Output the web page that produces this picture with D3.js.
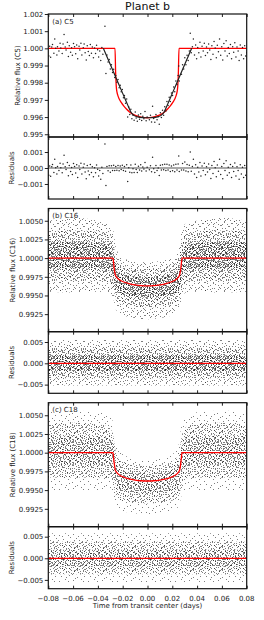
<!DOCTYPE html>
<html>
<head>
<meta charset="utf-8">
<script src="https://cdn.jsdelivr.net/npm/d3@7"></script>
<style>
  body { margin: 0; background: #fff; }
  svg { display: block; font-family: "DejaVu Sans", sans-serif; }
</style>
</head>
<body>
<svg id="chart" width="264" height="620"></svg>
<script>
// ---- data ----

// C5: [time, relative flux, residual]
const c5Rows = [
  [-0.0796, 0.99955, -0.00045], [-0.0789, 1.00012, 0.00012], [-0.0781, 0.99948, -0.00052],
  [-0.0772, 1.00008, 0.00008], [-0.0766, 1.00022, 0.00022], [-0.0755, 0.99972, -0.00028],
  [-0.0748, 1.00055, 0.00055], [-0.0740, 1.00001, 0.00001], [-0.0731, 0.99962, -0.00038],
  [-0.0726, 1.00010, 0.00010], [-0.0714, 0.99985, -0.00015], [-0.0705, 1.00030, 0.00030],
  [-0.0699, 1.00002, 0.00002], [-0.0688, 0.99970, -0.00030], [-0.0681, 1.00025, 0.00025],
  [-0.0673, 1.00080, 0.00080], [-0.0664, 1.00008, 0.00008], [-0.0657, 0.99990, -0.00010],
  [-0.0646, 1.00035, 0.00035], [-0.0638, 0.99952, -0.00048], [-0.0631, 1.00015, 0.00015],
  [-0.0620, 0.99978, -0.00022], [-0.0612, 1.00003, 0.00003], [-0.0606, 0.99960, -0.00040],
  [-0.0597, 1.00028, 0.00028], [-0.0588, 1.00010, 0.00010], [-0.0579, 0.99968, -0.00032],
  [-0.0571, 1.00020, 0.00020], [-0.0563, 0.99940, -0.00060], [-0.0552, 1.00012, 0.00012],
  [-0.0546, 0.99990, -0.00010], [-0.0537, 1.00030, 0.00030], [-0.0529, 0.99962, -0.00038],
  [-0.0518, 1.00004, 0.00004], [-0.0511, 1.00025, 0.00025], [-0.0503, 0.99975, -0.00025],
  [-0.0494, 0.99932, -0.00068], [-0.0486, 1.00015, 0.00015], [-0.0478, 0.99982, -0.00018],
  [-0.0469, 0.99958, -0.00042], [-0.0461, 1.00022, 0.00022], [-0.0452, 0.99972, -0.00028],
  [-0.0445, 1.00008, 0.00008], [-0.0436, 0.99945, -0.00055], [-0.0427, 1.00002, 0.00002],
  [-0.0419, 0.99970, -0.00030], [-0.0411, 1.00018, 0.00018], [-0.0402, 0.99992, -0.00008],
  [-0.0394, 0.99950, -0.00050], [-0.0385, 0.99985, -0.00015], [-0.0377, 0.99930, -0.00070],
  [-0.0368, 1.00005, 0.00005], [-0.0360, 0.99965, -0.00035], [-0.0343, 1.00129, 0.00150],
  [-0.0335, 0.99854, -0.00110], [-0.0327, 0.99962, 0.00010], [-0.0318, 0.99920, -0.00017],
  [-0.0309, 0.99935, 0.00014], [-0.0300, 0.99880, -0.00026], [-0.0291, 0.99905, 0.00014],
  [-0.0282, 0.99860, -0.00016], [-0.0273, 0.99878, 0.00017], [-0.0264, 0.99830, -0.00016],
  [-0.0256, 0.99842, 0.00010], [-0.0247, 0.99803, -0.00014], [-0.0238, 0.99818, 0.00016],
  [-0.0229, 0.99770, -0.00017], [-0.0220, 0.99785, 0.00013], [-0.0212, 0.99748, -0.00010],
  [-0.0203, 0.99760, 0.00017], [-0.0194, 0.99712, -0.00016], [-0.0186, 0.99725, 0.00010],
  [-0.0177, 0.99680, -0.00020], [-0.0168, 0.99705, 0.00020], [-0.0160, 0.99600, -0.00085],
  [-0.0151, 0.99658, 0.00002], [-0.0143, 0.99615, -0.00026], [-0.0134, 0.99645, 0.00018],
  [-0.0126, 0.99590, -0.00030], [-0.0117, 0.99610, -0.00005], [-0.0108, 0.99582, -0.00028],
  [-0.0099, 0.99630, 0.00023], [-0.0091, 0.99595, -0.00010], [-0.0082, 0.99575, -0.00028],
  [-0.0073, 0.99612, 0.00011], [-0.0064, 0.99588, -0.00012], [-0.0055, 0.99620, 0.00021],
  [-0.0047, 0.99580, -0.00018], [-0.0038, 0.99605, 0.00007], [-0.0029, 0.99590, -0.00007],
  [-0.0020, 0.99632, 0.00035], [-0.0011, 0.99578, -0.00019], [-0.0003, 0.99600, 0.00004],
  [0.0015, 0.99585, -0.00011], [0.0024, 0.99610, 0.00014], [0.0033, 0.99572, -0.00024],
  [0.0041, 0.99663, 0.00067], [0.0050, 0.99592, -0.00005], [0.0059, 0.99570, -0.00028],
  [0.0068, 0.99615, 0.00016], [0.0077, 0.99585, -0.00015], [0.0086, 0.99602, 0.00000],
  [0.0095, 0.99558, -0.00047], [0.0104, 0.99625, 0.00017], [0.0112, 0.99598, -0.00013],
  [0.0121, 0.99640, 0.00020], [0.0130, 0.99610, -0.00011], [0.0139, 0.99660, 0.00024],
  [0.0148, 0.99635, -0.00016], [0.0157, 0.99690, 0.00024], [0.0166, 0.99668, -0.00013],
  [0.0175, 0.99715, 0.00019], [0.0184, 0.99690, -0.00022], [0.0193, 0.99740, 0.00013],
  [0.0202, 0.99725, -0.00017], [0.0211, 0.99775, 0.00018], [0.0220, 0.99748, -0.00024],
  [0.0229, 0.99810, 0.00023], [0.0238, 0.99790, -0.00012], [0.0247, 0.99842, 0.00025],
  [0.0252, 0.99898, 0.00075], [0.0256, 0.99810, -0.00022], [0.0274, 0.99850, -0.00012],
  [0.0283, 0.99905, 0.00028], [0.0292, 0.99880, -0.00013], [0.0301, 0.99945, 0.00037],
  [0.0310, 0.99905, -0.00018], [0.0319, 0.99960, 0.00022], [0.0328, 0.99930, -0.00023],
  [0.0337, 0.99985, 0.00017], [0.0345, 1.00088, 0.00100], [0.0353, 0.99975, -0.00020],
  [0.0362, 1.00010, 0.00010], [0.0370, 1.00055, 0.00055], [0.0379, 0.99962, -0.00038],
  [0.0388, 1.00020, 0.00020], [0.0396, 0.99940, -0.00060], [0.0405, 1.00005, 0.00005],
  [0.0414, 0.99975, -0.00025], [0.0423, 1.00035, 0.00035], [0.0431, 0.99950, -0.00050],
  [0.0440, 1.00012, 0.00012], [0.0449, 0.99985, -0.00015], [0.0458, 1.00030, 0.00030],
  [0.0467, 0.99958, -0.00042], [0.0476, 1.00008, 0.00008], [0.0484, 0.99975, -0.00025],
  [0.0493, 1.00025, 0.00025], [0.0502, 0.99990, -0.00010], [0.0511, 0.99935, -0.00065],
  [0.0519, 1.00015, 0.00015], [0.0528, 0.99965, -0.00035], [0.0537, 1.00040, 0.00040],
  [0.0546, 1.00002, 0.00002], [0.0555, 0.99945, -0.00055], [0.0563, 1.00018, 0.00018],
  [0.0572, 0.99980, -0.00020], [0.0581, 1.00055, 0.00055], [0.0590, 0.99960, -0.00040],
  [0.0599, 1.00010, 0.00010], [0.0607, 0.99932, -0.00068], [0.0616, 1.00028, 0.00028],
  [0.0625, 0.99985, -0.00015], [0.0634, 1.00045, 0.00045], [0.0643, 0.99955, -0.00045],
  [0.0651, 1.00005, 0.00005], [0.0660, 0.99970, -0.00030], [0.0669, 1.00022, 0.00022],
  [0.0678, 0.99940, -0.00060], [0.0687, 1.00010, 0.00010], [0.0695, 0.99978, -0.00022],
  [0.0704, 1.00032, 0.00032], [0.0713, 0.99950, -0.00050], [0.0722, 1.00008, 0.00008],
  [0.0731, 0.99985, -0.00015], [0.0739, 0.99930, -0.00070], [0.0748, 1.00020, 0.00020],
  [0.0757, 0.99962, -0.00038], [0.0766, 1.00005, 0.00005], [0.0775, 0.99940, -0.00060],
  [0.0784, 1.00015, 0.00015], [0.0792, 0.99955, -0.00045], [0.0800, 0.99975, -0.00025]
]

// C5 models: red (fitted transit) and black (binned model)
const c5RedTime = [-0.080, -0.0262, -0.0257, -0.0252, -0.0246, -0.0240, -0.0228, -0.0212, -0.0192, -0.0170,
  -0.0145, -0.0115, -0.0080, -0.0040, -0.0004, 0.0032, 0.0072, 0.0107, 0.0137, 0.0162,
  0.0184, 0.0204, 0.0220, 0.0232, 0.0238, 0.0244, 0.0249, 0.0254, 0.080]
const c5RedFlux = [1.0000, 1.0000, 0.9986, 0.9978, 0.99745, 0.99728, 0.99705, 0.99685, 0.99665, 0.99647,
  0.99630, 0.99616, 0.99605, 0.99598, 0.99596, 0.99598, 0.99605, 0.99616, 0.99630, 0.99647,
  0.99665, 0.99685, 0.99705, 0.99728, 0.99745, 0.9978, 0.9986, 1.0000, 1.0000]
const c5BlackTime = [-0.0356, -0.0300, -0.0250, -0.0200, -0.0160, -0.0133, -0.0110, -0.0080, -0.0040, 0.0000,
  0.0040, 0.0080, 0.0110, 0.0133, 0.0160, 0.0200, 0.0250, 0.0300, 0.0356]
const c5BlackFlux = [1.0000, 0.99906, 0.99822, 0.99738, 0.99671, 0.99628, 0.99610, 0.99601, 0.99597, 0.99596,
  0.99597, 0.99601, 0.99610, 0.99628, 0.99671, 0.99738, 0.99822, 0.99906, 1.0000]

// C16 / C18 models
const modelTime = [-0.080, -0.0278, -0.0272, -0.0266, -0.0260, -0.0252, -0.0240, -0.0220, -0.0190, -0.0150,
  -0.0100, -0.0050, 0.0000, 0.0050, 0.0100, 0.0150, 0.0190, 0.0220, 0.0240, 0.0252,
  0.0260, 0.0266, 0.0272, 0.0278, 0.080]
const c16ModelFlux = [1.0000, 1.0000, 0.9991, 0.9983, 0.9978, 0.99752, 0.99728, 0.99703, 0.99680, 0.99658,
  0.99641, 0.99631, 0.99628, 0.99631, 0.99641, 0.99658, 0.99680, 0.99703, 0.99728, 0.99752,
  0.9978, 0.9983, 0.9991, 1.0000, 1.0000]
const c18ModelFlux = [1.0000, 1.0000, 0.9991, 0.9983, 0.9977, 0.99745, 0.99720, 0.99695, 0.99672, 0.99650,
  0.99634, 0.99625, 0.99622, 0.99625, 0.99634, 0.99650, 0.99672, 0.99695, 0.99720, 0.99745,
  0.9977, 0.9983, 0.9991, 1.0000, 1.0000]

// C16 / C18 point clouds (too dense to read point by point): envelopes of the
// outer, middle and core parts of the scatter
const cloudTime = [-0.080, -0.060, -0.040, -0.031, -0.028, -0.025, -0.020, -0.010, 0.000,
  0.010, 0.020, 0.025, 0.028, 0.031, 0.040, 0.060, 0.080]
const c16Hi3 = [1.0050, 1.0054, 1.0050, 1.0046, 1.0040, 1.0012, 1.0000, 0.9996, 0.9994, 0.9996, 1.0000, 1.0012, 1.0040, 1.0046, 1.0050, 1.0054, 1.0050]
const c16Lo3 = [0.9955, 0.9954, 0.9955, 0.9954, 0.9948, 0.9930, 0.9924, 0.9920, 0.9918, 0.9920, 0.9924, 0.9930, 0.9948, 0.9954, 0.9955, 0.9954, 0.9955]
const c16Hi2 = [1.0036, 1.0037, 1.0035, 1.0032, 1.0024, 0.9999, 0.9990, 0.9986, 0.9985, 0.9986, 0.9990, 0.9999, 1.0024, 1.0032, 1.0035, 1.0037, 1.0036]
const c16Lo2 = [0.9970, 0.9970, 0.9970, 0.9968, 0.9962, 0.9943, 0.9938, 0.9935, 0.9934, 0.9935, 0.9938, 0.9943, 0.9962, 0.9968, 0.9970, 0.9970, 0.9970]
const c16Hi1 = [1.0021, 1.0022, 1.0020, 1.0018, 1.0010, 0.9986, 0.9979, 0.9975, 0.9974, 0.9975, 0.9979, 0.9986, 1.0010, 1.0018, 1.0020, 1.0022, 1.0021]
const c16Lo1 = [0.9986, 0.9986, 0.9986, 0.9984, 0.9976, 0.9956, 0.9951, 0.9948, 0.9947, 0.9948, 0.9951, 0.9956, 0.9976, 0.9984, 0.9986, 0.9986, 0.9986]

const c18Hi3 = [1.0055, 1.0056, 1.0054, 1.0050, 1.0042, 1.0010, 0.9998, 0.9992, 0.9990, 0.9992, 0.9998, 1.0010, 1.0042, 1.0050, 1.0054, 1.0056, 1.0055]
const c18Lo3 = [0.9950, 0.9950, 0.9950, 0.9950, 0.9945, 0.9928, 0.9922, 0.9919, 0.9917, 0.9919, 0.9922, 0.9928, 0.9945, 0.9950, 0.9950, 0.9950, 0.9950]
const c18Hi2 = [1.0038, 1.0040, 1.0038, 1.0034, 1.0025, 0.9998, 0.9988, 0.9984, 0.9982, 0.9984, 0.9988, 0.9998, 1.0025, 1.0034, 1.0038, 1.0040, 1.0038]
const c18Lo2 = [0.9967, 0.9967, 0.9967, 0.9966, 0.9960, 0.9941, 0.9936, 0.9933, 0.9932, 0.9933, 0.9936, 0.9941, 0.9960, 0.9966, 0.9967, 0.9967, 0.9967]
const c18Hi1 = [1.0022, 1.0023, 1.0022, 1.0019, 1.0010, 0.9985, 0.9977, 0.9973, 0.9972, 0.9973, 0.9977, 0.9985, 1.0010, 1.0019, 1.0022, 1.0023, 1.0022]
const c18Lo1 = [0.9984, 0.9984, 0.9984, 0.9982, 0.9975, 0.9955, 0.9950, 0.9946, 0.9945, 0.9946, 0.9950, 0.9955, 0.9975, 0.9982, 0.9984, 0.9984, 0.9984]

// residual clouds: flat over time
const residTime = [-0.080, 0.080]
const r16Hi = [0.0055, 0.0036, 0.0019]
const r16Lo = [-0.0052, -0.0035, -0.0018]
const r18Hi = [0.0058, 0.0038, 0.0020]
const r18Lo = [-0.0055, -0.0037, -0.0019]

// axis ticks
const timeTicks = [-0.08, -0.06, -0.04, -0.02, 0, 0.02, 0.04, 0.06, 0.08]
const c5Ticks = [0.995, 0.996, 0.997, 0.998, 0.999, 1.000, 1.001, 1.002]
const c5ResidTicks = [-0.001, 0, 0.001]
const fluxTicks = [0.9925, 0.9950, 0.9975, 1.0000, 1.0025, 1.0050]
const residTicks = [-0.005, 0, 0.005]

// ---- layout ----
const svg = d3.select("#chart")
const left = 48.3, right = 246.7

const x = d3.scaleLinear()
  .domain([-0.08, 0.08])
  .range([left, right])

const panels = [
  {top: 14, bottom: 137, domain: [0.99484, 1.002], ticks: c5Ticks, fmt: ".3f", label: "Relative flux (C5)", labelX: 19.5, tag: "(a) C5"},
  {top: 137, bottom: 199, domain: [-0.00194, 0.00194], ticks: c5ResidTicks, fmt: ".3f", label: "Residuals", labelX: 13.5},
  {top: 208.5, bottom: 331.7, domain: [0.99015, 1.00664], ticks: fluxTicks, fmt: ".4f", label: "Relative flux (C16)", labelX: 15, tag: "(b) C16"},
  {top: 331.7, bottom: 393.3, domain: [-0.00704, 0.00742], ticks: residTicks, fmt: ".3f", label: "Residuals", labelX: 13.5},
  {top: 402.7, bottom: 526.7, domain: [0.99011, 1.00668], ticks: fluxTicks, fmt: ".4f", label: "Relative flux (C18)", labelX: 15, tag: "(c) C18"},
  {top: 526.7, bottom: 588.7, domain: [-0.00704, 0.00731], ticks: residTicks, fmt: ".3f", label: "Residuals", labelX: 13.5}
]
panels.forEach(p => {
  p.y = d3.scaleLinear().domain(p.domain).range([p.bottom, p.top])
})

// ---- dot textures for the dense scatter ----
const defs = svg.append("defs")
const tileDots = [
  [3,1],[11,0],[19,2],[26,1],[7,4],[15,5],[23,4],[1,6],[12,8],[20,7],
  [27,9],[5,10],[16,11],[9,12],[24,12],[2,14],[13,15],[21,14],[28,16],[6,17],
  [17,18],[10,19],[25,19],[1,21],[14,22],[22,21],[8,2],[17,3],[4,7],[25,6],
  [10,6],[18,9],[0,11],[21,11],[7,13],[15,13],[27,13],[4,16],[11,16],[19,17],
  [23,17],[2,19],[14,20],[28,20],[7,21],[20,22],[13,3],[22,0],[6,9],[26,15],
  [9,15],[18,15],[1,3],[24,9],[16,21],[11,22],[3,12],[28,5],[13,10],[19,20]
]

function addPattern(id, count, dx, dy) {
  const pat = defs.append("pattern")
    .attr("id", id)
    .attr("patternUnits", "userSpaceOnUse")
    .attr("width", 29)
    .attr("height", 23)
    .attr("patternTransform", `translate(${dx},${dy})`)
  pat.selectAll("rect")
    .data(tileDots.slice(0, count))
    .enter()
    .append("rect")
      .attr("x", d => d[0])
      .attr("y", d => d[1])
      .attr("width", 1)
      .attr("height", 1)
      .attr("fill", "#000")
      .attr("opacity", 0.5)
}
addPattern("dotsA", 40, 0, 0)
addPattern("dotsB", 40, 14, 11)
addPattern("dotsC", 60, 13, 7)
addPattern("dotsD", 60, 5, 19)
addPattern("dotsE", 60, 6, 15)
addPattern("dotsF", 60, 21, 4)
addPattern("dotsG", 60, 9, 2)
addPattern("dotsH", 60, 17, 13)

// clip each panel
panels.forEach((p, i) => {
  defs.append("clipPath")
    .attr("id", "clip" + i)
    .append("rect")
      .attr("x", left)
      .attr("y", p.top)
      .attr("width", right - left)
      .attr("height", p.bottom - p.top)
})

const plot = panels.map((p, i) => svg.append("g").attr("clip-path", `url(#clip${i})`))

function line(p, time, vals) {
  return d3.line()
    .x((d, i) => x(time[i]))
    .y(d => p.y(d))
    .curve(d3.curveMonotoneX)(vals)
}

function cloud(i, time, los, his, pats) {
  const p = panels[i]
  los.forEach((lo, k) => {
    pats[k].forEach(pat => {
      plot[i].append("path")
        .attr("fill", `url(#${pat})`)
        .attr("d", d3.area()
          .x((d, j) => x(time[j]))
          .y0((d, j) => p.y(lo[j]))
          .y1((d, j) => p.y(his[k][j]))
          .curve(d3.curveMonotoneX)(lo))
    })
  })
}

// ---- (a) C5 ----
plot[0].append("path")
  .attr("fill", "none")
  .attr("stroke", "#ff0000")
  .attr("stroke-width", 1.3)
  .attr("d", line(panels[0], c5RedTime, c5RedFlux))

plot[0].append("path")
  .attr("fill", "none")
  .attr("stroke", "#222")
  .attr("stroke-width", 1.2)
  .attr("d", line(panels[0], c5BlackTime, c5BlackFlux))

plot[0].selectAll(".pt")
  .data(c5Rows)
  .enter()
  .append("circle")
    .attr("cx", d => x(d[0]))
    .attr("cy", d => panels[0].y(d[1]))
    .attr("r", 0.75)
    .attr("fill", "#222")

plot[1].append("line")
  .attr("x1", left).attr("x2", right)
  .attr("y1", panels[1].y(0)).attr("y2", panels[1].y(0))
  .attr("stroke", "#555")
  .attr("stroke-width", 1.2)

plot[1].selectAll(".pt")
  .data(c5Rows)
  .enter()
  .append("circle")
    .attr("cx", d => x(d[0]))
    .attr("cy", d => panels[1].y(d[2]))
    .attr("r", 0.75)
    .attr("fill", "#222")

// ---- (b) C16 ----
const densePats = [["dotsA", "dotsB"], ["dotsC", "dotsD"], ["dotsE", "dotsF", "dotsG", "dotsH"]]
const lightPats = [["dotsA"], ["dotsC", "dotsD"], ["dotsE", "dotsF"]]

cloud(2, cloudTime, [c16Lo3, c16Lo2, c16Lo1], [c16Hi3, c16Hi2, c16Hi1], densePats)
plot[2].append("path")
  .attr("fill", "none")
  .attr("stroke", "#ff0000")
  .attr("stroke-width", 1.3)
  .attr("d", line(panels[2], modelTime, c16ModelFlux))

cloud(3, residTime, r16Lo.map(v => [v, v]), r16Hi.map(v => [v, v]), densePats)
plot[3].append("line")
  .attr("x1", left).attr("x2", right)
  .attr("y1", panels[3].y(0)).attr("y2", panels[3].y(0))
  .attr("stroke", "#ff0000")
  .attr("stroke-width", 1.3)

// ---- (c) C18 ----
cloud(4, cloudTime, [c18Lo3, c18Lo2, c18Lo1], [c18Hi3, c18Hi2, c18Hi1], lightPats)
plot[4].append("path")
  .attr("fill", "none")
  .attr("stroke", "#ff0000")
  .attr("stroke-width", 1.3)
  .attr("d", line(panels[4], modelTime, c18ModelFlux))

cloud(5, residTime, r18Lo.map(v => [v, v]), r18Hi.map(v => [v, v]), lightPats)
plot[5].append("line")
  .attr("x1", left).attr("x2", right)
  .attr("y1", panels[5].y(0)).attr("y2", panels[5].y(0))
  .attr("stroke", "#ff0000")
  .attr("stroke-width", 1.3)

// ---- axes, frames, labels ----
panels.forEach((p, i) => {
  const g = svg.append("g")

  // y axis (ticks outward)
  const ya = g.append("g")
    .attr("transform", `translate(${left},0)`)
    .call(d3.axisLeft(p.y).tickValues(p.ticks).tickFormat(d3.format(p.fmt)).tickSize(3.5).tickPadding(1.5))
  ya.select(".domain").remove()
  ya.selectAll("text").attr("font-size", 7).attr("fill", "#222").attr("font-family", "DejaVu Sans")
  ya.selectAll("line").attr("stroke", "#222")

  // x ticks pointing inward, top and bottom
  const xt = g.append("g")
    .attr("transform", `translate(0,${p.top})`)
    .call(d3.axisBottom(x).tickValues(timeTicks).tickSize(3).tickFormat(""))
  xt.select(".domain").remove()
  xt.selectAll("line").attr("stroke", "#222")

  const xb = g.append("g")
    .attr("transform", `translate(0,${p.bottom})`)
    .call(d3.axisTop(x).tickValues(timeTicks).tickSize(3).tickFormat(""))
  xb.select(".domain").remove()
  xb.selectAll("line").attr("stroke", "#222")

  // frame
  g.append("rect")
    .attr("x", left).attr("y", p.top)
    .attr("width", right - left).attr("height", p.bottom - p.top)
    .attr("fill", "none")
    .attr("stroke", "#111")
    .attr("stroke-width", 1.2)

  // y label
  g.append("text")
    .attr("transform", `translate(${p.labelX},${(p.top + p.bottom) / 2})rotate(-90)`)
    .attr("text-anchor", "middle")
    .attr("font-size", 7)
    .attr("fill", "#222")
    .text(p.label)

  if (p.tag) {
    g.append("text")
      .attr("x", left + 4)
      .attr("y", p.top + 9.5)
      .attr("font-size", 7)
      .attr("fill", "#222")
      .text(p.tag)
  }
})

// x tick labels on the last panel
const last = panels[panels.length - 1]
svg.append("g")
  .selectAll("text")
  .data(timeTicks)
  .enter()
  .append("text")
    .attr("x", d => x(d))
    .attr("y", last.bottom + 12)
    .attr("text-anchor", "middle")
    .attr("font-size", 7)
    .attr("fill", "#222")
    .text(d => d3.format(".2f")(d))

svg.append("text")
  .attr("x", (left + right) / 2)
  .attr("y", last.bottom + 18.8)
  .attr("text-anchor", "middle")
  .attr("font-size", 7)
  .attr("fill", "#222")
  .text("Time from transit center (days)")

svg.append("text")
  .attr("x", (left + right) / 2)
  .attr("y", 9.8)
  .attr("text-anchor", "middle")
  .attr("font-size", 11)
  .attr("fill", "#111")
  .text("Planet b")
</script>
</body>
</html>
